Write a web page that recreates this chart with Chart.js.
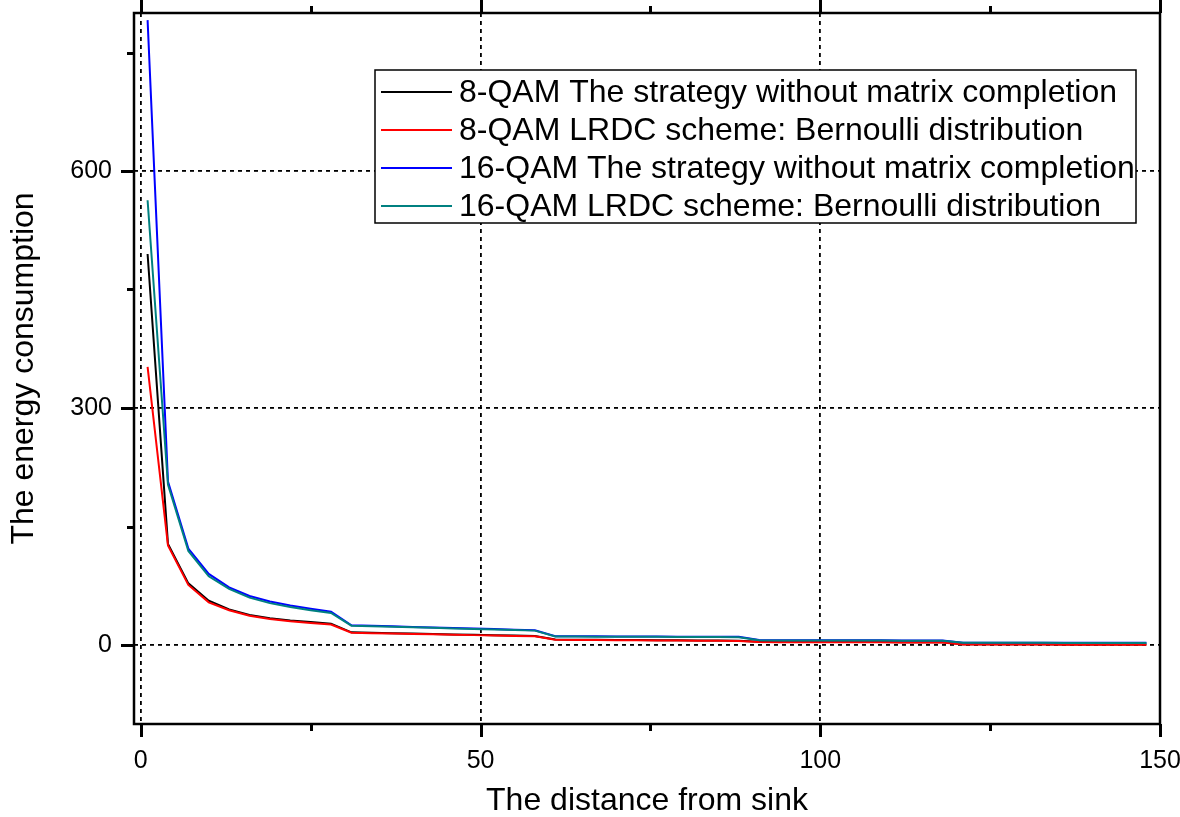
<!DOCTYPE html>
<html>
<head>
<meta charset="utf-8">
<script src="https://cdn.jsdelivr.net/npm/chart.js@4.4.0/dist/chart.umd.min.js"></script>
<style>
  html, body { margin: 0; padding: 0; background: #fff; }
  #wrap { width: 1180px; height: 817px; }
</style>
</head>
<body>
<div id="wrap"><canvas id="energyChart" width="1180" height="817"></canvas></div>
<script>
// distance from sink (x) for every sample
const distance = [1, 4, 7, 10, 13, 16, 19, 22, 25, 28,
    31, 34, 37, 40, 43, 46, 49, 52, 55, 58,
    61, 64, 67, 70, 73, 76, 79, 82, 85, 88,
    91, 94, 97, 100, 103, 106, 109, 112, 115, 118,
    121, 124, 127, 130, 133, 136, 139, 142, 145, 148];

const qam8Plain = [495, 128, 78, 56, 45, 38, 34, 31, 29, 27,
    16, 15.5, 15, 14.5, 14, 13.4, 12.9, 12.4, 11.9, 11.4,
    7.0, 6.8, 6.6, 6.4, 6.3, 6.1, 6.0, 5.8, 5.7, 5.5,
    4.0, 3.9, 3.9, 3.8, 3.8, 3.7, 3.7, 3.6, 3.6, 3.5,
    0.9, 0.9, 0.8, 0.8, 0.8, 0.7, 0.7, 0.7, 0.6, 0.6];

const qam8Lrdc = [352, 126, 76, 54, 44, 37, 33, 30, 28, 26,
    15.5, 15, 14.5, 14, 13.5, 13, 12.5, 12, 11.5, 11,
    6.6, 6.4, 6.2, 6.0, 5.9, 5.7, 5.6, 5.4, 5.3, 5.1,
    3.7, 3.6, 3.6, 3.5, 3.5, 3.4, 3.4, 3.3, 3.3, 3.2,
    0.6, 0.6, 0.5, 0.5, 0.5, 0.4, 0.4, 0.4, 0.3, 0.3];

const qam16Plain = [791, 207, 122, 90, 73, 62, 55, 50, 46, 42,
    25, 24.3, 23.6, 22.9, 22.2, 21.5, 20.8, 20.1, 19.4, 18.7,
    11.2, 11.1, 11.0, 10.9, 10.8, 10.7, 10.6, 10.5, 10.4, 10.3,
    6.2, 6.1, 6.1, 6.0, 6.0, 5.9, 5.9, 5.8, 5.8, 5.7,
    3.0, 3.0, 2.9, 2.9, 2.9, 2.8, 2.8, 2.8, 2.7, 2.7];

const qam16Lrdc = [563, 203, 119, 87, 71, 60, 53, 48, 44, 40.5,
    24.5, 23.8, 23.1, 22.4, 21.7, 21.0, 20.3, 19.6, 18.9, 18.2,
    10.8, 10.7, 10.6, 10.5, 10.4, 10.3, 10.2, 10.1, 10.0, 9.9,
    5.9, 5.8, 5.8, 5.7, 5.7, 5.6, 5.6, 5.5, 5.5, 5.4,
    2.8, 2.8, 2.7, 2.7, 2.7, 2.6, 2.6, 2.6, 2.5, 2.5];

const seriesNames = [
    '8-QAM The strategy without matrix completion',
    '8-QAM LRDC scheme: Bernoulli distribution',
    '16-QAM The strategy without matrix completion',
    '16-QAM LRDC scheme: Bernoulli distribution'
];

const xMajorTicks = [0, 50, 100, 150];
const xMinorTicks = [25, 75, 125];
const yMajorTicks = [0, 300, 600];
const yMinorTicks = [150, 450, 750];

const FONT = '"Liberation Sans", Arial, Helvetica, sans-serif';

const pairs = (ys) => ys.map((y, i) => ({ x: distance[i], y: y }));

// frame + outward ticks (major and minor), like the original plot
const frameTicksPlugin = {
    id: 'frameTicks',
    afterDraw(chart) {
        const { ctx, chartArea: a, scales: { x, y } } = chart;
        ctx.save();
        ctx.strokeStyle = '#000';
        ctx.lineWidth = 2.5;
        ctx.strokeRect(a.left, a.top, a.right - a.left, a.bottom - a.top);
        ctx.beginPath();
        const xt = (v, len) => {
            const px = Math.round(x.getPixelForValue(v)) + 0.5;
            ctx.moveTo(px, a.bottom); ctx.lineTo(px, a.bottom + len);
            ctx.moveTo(px, a.top); ctx.lineTo(px, a.top - len);
        };
        const yt = (v, len) => {
            const py = Math.round(y.getPixelForValue(v)) + 0.5;
            ctx.moveTo(a.left, py); ctx.lineTo(a.left - len, py);
        };
        xMajorTicks.forEach(v => xt(v, 13));
        xMinorTicks.forEach(v => xt(v, 7));
        yMajorTicks.forEach(v => yt(v, 13));
        yMinorTicks.forEach(v => yt(v, 7));
        ctx.lineWidth = 3;
        ctx.stroke();
        ctx.restore();
    }
};

// boxed legend inside the plot
const boxLegendPlugin = {
    id: 'boxLegend',
    afterDraw(chart) {
        const { ctx } = chart;
        const box = { left: 375, top: 70, right: 1136, bottom: 223 };
        ctx.save();
        ctx.fillStyle = '#fff';
        ctx.fillRect(box.left, box.top, box.right - box.left, box.bottom - box.top);
        ctx.strokeStyle = '#000';
        ctx.lineWidth = 1.5;
        ctx.strokeRect(box.left, box.top, box.right - box.left, box.bottom - box.top);
        ctx.font = '32px ' + FONT;
        ctx.textBaseline = 'middle';
        ctx.textAlign = 'left';
        chart.data.datasets.forEach((ds, i) => {
            const cy = 92 + i * 38;
            ctx.strokeStyle = ds.borderColor;
            ctx.lineWidth = 1.8;
            ctx.beginPath();
            ctx.moveTo(381, cy); ctx.lineTo(452, cy);
            ctx.stroke();
            ctx.fillStyle = '#000';
            ctx.fillText(ds.label, 459, cy + 1);
        });
        ctx.restore();
    }
};

new Chart(document.getElementById('energyChart'), {
    type: 'line',
    data: {
        datasets: [
            { label: seriesNames[0], data: pairs(qam8Plain), borderColor: '#000000', order: 3 },
            { label: seriesNames[1], data: pairs(qam8Lrdc), borderColor: '#ff0000', order: 1 },
            { label: seriesNames[2], data: pairs(qam16Plain), borderColor: '#0000ff', order: 2 },
            { label: seriesNames[3], data: pairs(qam16Lrdc), borderColor: '#008080', order: 0 }
        ]
    },
    options: {
        responsive: false,
        animation: false,
        layout: { padding: { top: 13, right: 20, left: 0, bottom: 0 } },
        elements: {
            point: { radius: 0 },
            line: { borderWidth: 2, tension: 0, fill: false }
        },
        plugins: {
            legend: { display: false },
            tooltip: { enabled: false }
        },
        scales: {
            x: {
                type: 'linear',
                min: -1,
                max: 150,
                afterBuildTicks: (scale) => { scale.ticks = xMajorTicks.map(v => ({ value: v })); },
                afterFit: (scale) => {
                    scale.height = 93;
                    scale.paddingLeft = 0;
                    scale.paddingRight = 0;
                },
                grid: { color: '#000', lineWidth: 1.8, drawTicks: false },
                border: { display: false, dash: [4, 4] },
                ticks: {
                    padding: 22,
                    color: '#000',
                    maxRotation: 0,
                    font: { family: FONT, size: 25 }
                },
                title: {
                    display: true,
                    text: 'The distance from sink',
                    color: '#000',
                    padding: 0,
                    font: { family: FONT, size: 32, lineHeight: 1 }
                }
            },
            y: {
                type: 'linear',
                min: -100,
                max: 800,
                afterBuildTicks: (scale) => { scale.ticks = yMajorTicks.map(v => ({ value: v })); },
                afterFit: (scale) => {
                    scale.width = 134;
                    scale.paddingTop = 0;
                    scale.paddingBottom = 0;
                },
                grid: { color: '#000', lineWidth: 1.8, drawTicks: false },
                border: { display: false, dash: [4, 4] },
                ticks: {
                    padding: 22,
                    color: '#000',
                    font: { family: FONT, size: 25 }
                },
                title: {
                    display: true,
                    text: 'The energy consumption',
                    color: '#000',
                    padding: { top: 8, bottom: 0 },
                    font: { family: FONT, size: 32, lineHeight: 1 }
                }
            }
        }
    },
    plugins: [frameTicksPlugin, boxLegendPlugin]
});
</script>
</body>
</html>
